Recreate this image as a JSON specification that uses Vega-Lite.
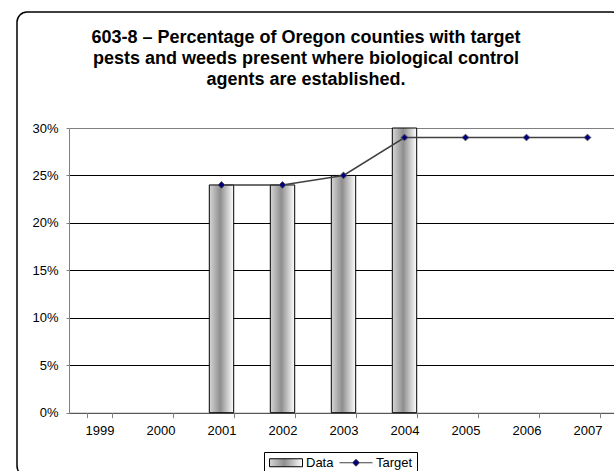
{
  "$schema": "https://vega.github.io/schema/vega-lite/v6.json",
  "width": 605,
  "height": 464,
  "autosize": {"type": "none"},
  "padding": {"left": 17, "top": 12, "right": 0, "bottom": 0},
  "background": "white",
  "config": {
    "font": "Liberation Sans",
    "view": {"stroke": "black", "strokeWidth": 1.5, "cornerRadius": 10, "fill": "white"},
    "axis": {
      "labelFont": "Liberation Sans",
      "labelFontSize": 13,
      "labelColor": "black",
      "domainColor": "#808080",
      "tickColor": "#808080",
      "title": null
    }
  },
  "title": {
    "text": [
      "603-8 – Percentage of Oregon counties with target",
      "pests and weeds present where biological control",
      "agents are established."
    ],
    "font": "Liberation Sans",
    "fontSize": 18,
    "fontWeight": "bold",
    "color": "black",
    "lineHeight": 21,
    "anchor": "middle",
    "frame": "group",
    "dx": -13.5,
    "offset": -77
  },
  "datasets": {
    "measured": [
      {"year": "2001", "pct": 24, "series": "Data"},
      {"year": "2002", "pct": 24, "series": "Data"},
      {"year": "2003", "pct": 25, "series": "Data"},
      {"year": "2004", "pct": 30, "series": "Data"}
    ],
    "target": [
      {"year": "2001", "pct": 24, "series": "Target"},
      {"year": "2002", "pct": 24, "series": "Target"},
      {"year": "2003", "pct": 25, "series": "Target"},
      {"year": "2004", "pct": 29, "series": "Target"},
      {"year": "2005", "pct": 29, "series": "Target"},
      {"year": "2006", "pct": 29, "series": "Target"},
      {"year": "2007", "pct": 29, "series": "Target"}
    ]
  },
  "layer": [
    {
      "data": {"name": "measured"},
      "mark": {
        "type": "bar",
        "fill": {
          "gradient": "linear",
          "x1": 0, "x2": 1, "y1": 0, "y2": 0,
          "stops": [
            {"offset": 0, "color": "#d6d6d6"},
            {"offset": 0.45, "color": "#8e8e8e"},
            {"offset": 1, "color": "#ffffff"}
          ]
        },
        "stroke": "black",
        "strokeWidth": 1
      },
      "encoding": {
        "x": {
          "field": "year",
          "type": "ordinal",
          "scale": {
            "domain": ["1999", "2000", "2001", "2002", "2003", "2004", "2005", "2006", "2007"],
            "range": [52, 601],
            "paddingInner": 0.6,
            "paddingOuter": 0.3
          },
          "axis": {
            "title": null,
            "labelAngle": 0,
            "tickBand": "extent",
            "tickSize": 5,
            "labelPadding": 7,
            "offset": -63.3,
            "grid": false
          }
        },
        "y": {
          "field": "pct",
          "type": "quantitative",
          "scale": {"domain": [0, 30], "range": [400.7, 116], "nice": false},
          "axis": {
            "title": null,
            "values": [0, 5, 10, 15, 20, 25, 30],
            "labelExpr": "datum.value + '%'",
            "tickSize": 3,
            "labelPadding": 8,
            "offset": -52,
            "grid": true,
            "gridWidth": 1,
            "gridColor": {"condition": {"test": "datum.value >= 30", "value": "#808080"}, "value": "black"}
          }
        }
      }
    },
    {
      "data": {"name": "target"},
      "mark": {"type": "line", "color": "#404040", "strokeWidth": 1.5},
      "encoding": {
        "x": {"field": "year", "type": "ordinal"},
        "y": {"field": "pct", "type": "quantitative"},
        "opacity": {
          "field": "series",
          "type": "nominal",
          "scale": {"domain": ["Data", "Target"], "range": [1, 1]},
          "legend": {
            "title": null,
            "orient": "none",
            "legendX": 247,
            "legendY": 440,
            "direction": "horizontal",
            "strokeColor": "black",
            "fillColor": "white",
            "padding": 4,
            "symbolSize": 100,
            "labelOffset": 25,
            "columnPadding": 3,
            "labelFont": "Liberation Sans",
            "labelFontSize": 13,
            "labelColor": "black",
            "symbolStrokeWidth": 1,
            "symbolType": {"expr": "datum.value === 'Data' ? 'M-1,-0.8H5.6V0.8H-1Z' : 'M-1,0H1.6M3,0H5.6M2.3,-0.7L3,0L2.3,0.7L1.6,0Z'"},
            "symbolFillColor": {"expr": "datum.value === 'Data' ? {gradient: 'linear', x1: 0, y1: 0, x2: 1, y2: 0, stops: [{offset: 0, color: '#d6d6d6'}, {offset: 0.45, color: '#8e8e8e'}, {offset: 1, color: '#ffffff'}]} : '#000080'"},
            "symbolStrokeColor": {"expr": "datum.value === 'Data' ? 'black' : '#404040'"}
          }
        }
      }
    },
    {
      "data": {"name": "target"},
      "mark": {
        "type": "point",
        "shape": "diamond",
        "filled": true,
        "fill": "#000080",
        "stroke": "#505050",
        "strokeWidth": 1,
        "size": 45,
        "opacity": 1
      },
      "encoding": {
        "x": {"field": "year", "type": "ordinal"},
        "y": {"field": "pct", "type": "quantitative"}
      }
    }
  ]
}
